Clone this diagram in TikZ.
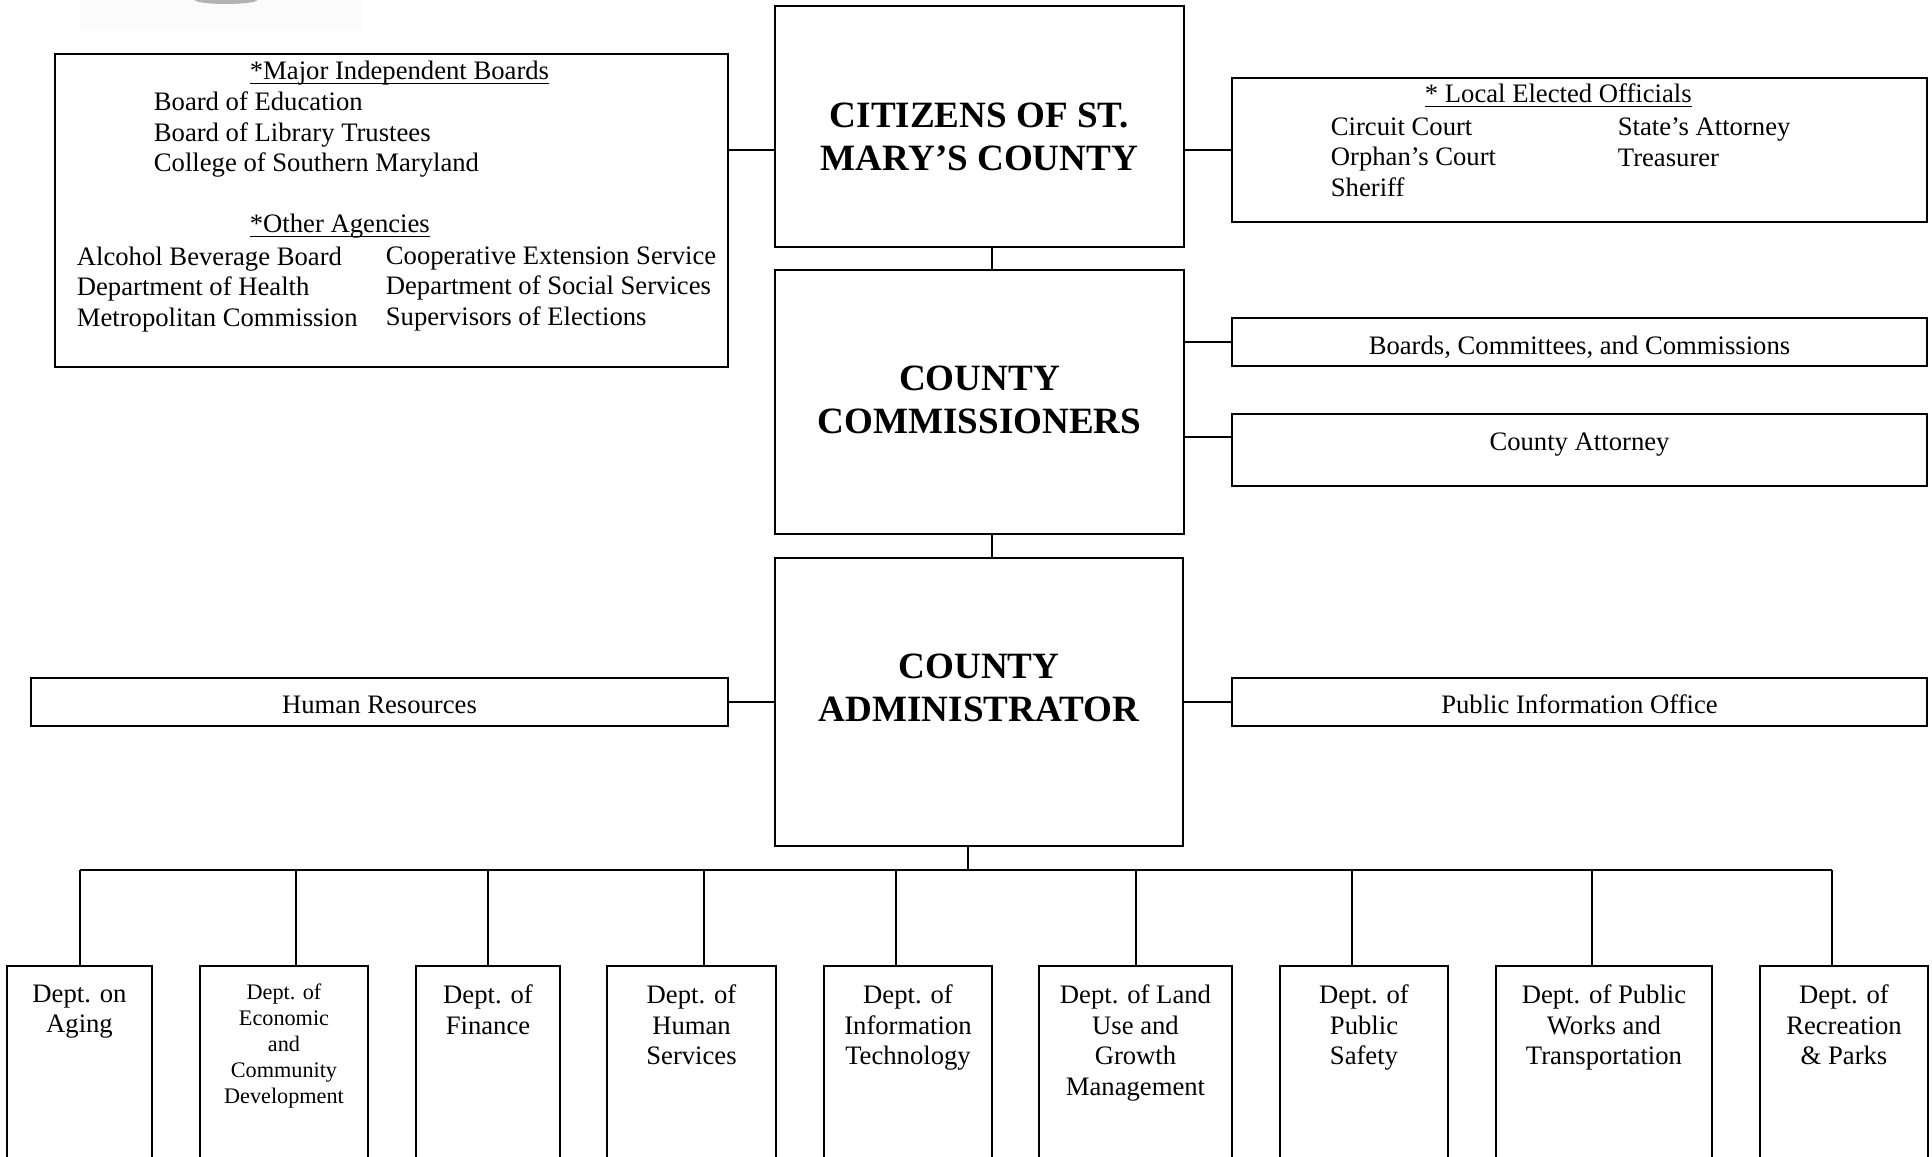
\documentclass[tikz,border=0pt]{standalone}
\usepackage{fontspec}
\setmainfont{Liberation Serif}
\usepackage{tikz}
\usetikzlibrary{positioning,calc}
\tikzstyle{orgbox}=[draw,rectangle,line width=0.8pt,inner sep=0pt,outer sep=0pt]
\tikzstyle{titletext}=[font=\fontsize{16.7}{19.35}\selectfont\bfseries,align=center,inner sep=0pt,anchor=north]
\tikzstyle{listtext}=[font=\fontsize{12}{13.7}\selectfont,align=left,inner sep=0pt,anchor=north west]
\tikzstyle{labeltext}=[font=\fontsize{12}{13.7}\selectfont,inner sep=0pt,anchor=base]
\tikzstyle{depttext}=[font=\fontsize{12}{13.7}\selectfont,align=center,inner sep=0pt,anchor=north]
\tikzset{boxsize/.style 2 args={minimum width=#1*0.45pt,minimum height=#2*0.45pt}}
\newcommand{\wordul}[1]{\underline{\smash{#1}}}

\begin{document}
\begin{tikzpicture}[x=0.45pt,y=-0.45pt,line width=0.8pt]
\useasboundingbox (0,0) rectangle (1932,1157);
\clip (0,0) rectangle (1932,1157);
% faint logo cut off at the top
\fill[black!1.5] (80,0) rectangle (362,30);
\fill[black!30] (226,0) ellipse [x radius=14pt,y radius=1.8pt];

% middle column
\node [orgbox,boxsize={409}{241}] (citizens) at (979.5,126.5) {};
\node [orgbox,boxsize={409}{264}] (commissioners) at (979.5,402) {};
\node [orgbox,boxsize={408}{288}] (admin) at (979,702) {};
\node [titletext] (citizenstxt) at (979.5,102) {CITIZENS OF ST.\\MARY’S COUNTY};
\node [titletext] (commissionerstxt) at (979.5,365) {COUNTY\\COMMISSIONERS};
\node [titletext] (admintxt) at (979,653) {COUNTY\\ADMINISTRATOR};

% boards and agencies
\node [orgbox,boxsize={673}{313}] (boards) at (391.5,210.5) {};
\node [labeltext,anchor=base west] (boardshead) at (249,80) {\wordul{*Major Independent Boards}};
\node [listtext] (boardslist) at (153,91) {Board of Education\\Board of Library Trustees\\College of Southern Maryland};
\node [labeltext,anchor=base west] (agencyhead) at (249,233) {\wordul{*Other Agencies}};
\node [listtext] (agencyleft) at (76,246) {Alcohol Beverage Board\\Department of Health\\Metropolitan Commission};
\node [listtext] (agencyright) at (385,246) {Cooperative Extension Service\\Department of Social Services\\Supervisors of Elections};

% elected officials
\node [orgbox,boxsize={695}{144}] (elected) at (1579.5,150) {};
\node [labeltext,anchor=base west] (electedhead) at (1424,103) {\wordul{* Local Elected Officials}};
\node [listtext] (electedleft) at (1330,117) {Circuit Court\\Orphan’s Court\\Sheriff};
\node [listtext] (electedright) at (1617,117) {State’s Attorney\\Treasurer};

% side boxes
\node [orgbox,boxsize={695}{48}] (bcc) at (1579.5,342) {};
\node [labeltext] (bcctxt) at (1579.5,354) {Boards, Committees, and Commissions};
\node [orgbox,boxsize={695}{72}] (attorney) at (1579.5,450) {};
\node [labeltext] (attorneytxt) at (1579.5,450) {County Attorney};
\node [orgbox,boxsize={697}{48}] (hr) at (379.5,702) {};
\node [labeltext] (hrtxt) at (379.5,713.5) {Human Resources};
\node [orgbox,boxsize={695}{48}] (pio) at (1579.5,702) {};
\node [labeltext] (piotxt) at (1579.5,713.5) {Public Information Office};

% departments
\node [orgbox,boxsize={145}{204}] (aging) at (79.5,1068) {};
\node [orgbox,boxsize={168}{204}] (econ) at (284,1068) {};
\node [orgbox,boxsize={144}{204}] (finance) at (488,1068) {};
\node [orgbox,boxsize={169}{204}] (human) at (691.5,1068) {};
\node [orgbox,boxsize={168}{204}] (infotech) at (908,1068) {};
\node [orgbox,boxsize={193}{204}] (landuse) at (1135.5,1068) {};
\node [orgbox,boxsize={168}{204}] (safety) at (1364,1068) {};
\node [orgbox,boxsize={216}{204}] (works) at (1604,1068) {};
\node [orgbox,boxsize={168}{204}] (recreation) at (1844,1068) {};
\node [depttext] at (aging.north |- 0,984) {Dept. on\\Aging};
\node [depttext,font=\fontsize{10}{11.7}\selectfont] at (econ.north |- 0,983) {Dept. of\\Economic\\and\\Community\\Development};
\node [depttext] at (finance.north |- 0,984) {Dept. of\\Finance};
\node [depttext] at (human.north |- 0,984) {Dept. of\\Human\\Services};
\node [depttext] at (infotech.north |- 0,984) {Dept. of\\Information\\Technology};
\node [depttext] at (landuse.north |- 0,984) {Dept. of Land\\Use and\\Growth\\Management};
\node [depttext] at (safety.north |- 0,984) {Dept. of\\Public\\Safety};
\node [depttext] at (works.north |- 0,984) {Dept. of Public\\Works and\\Transportation};
\node [depttext] at (recreation.north |- 0,984) {Dept. of\\Recreation\\\& Parks};

% connectors
\coordinate (spine) at (992,0);
\coordinate (attyjoin) at ($(attorney.north west)!0.32!(attorney.south west)$);
\draw (boards.east |- elected.west) -- (citizens.west |- elected.west);
\draw (citizens.east |- elected.west) -- (elected.west);
\draw (citizens.south -| spine) -- (commissioners.north -| spine);
\draw (commissioners.south -| spine) -- (admin.north -| spine);
\draw (commissioners.east |- bcc.west) -- (bcc.west);
\draw (commissioners.east |- attyjoin) -- (attyjoin);
\draw (hr.east) -- (admin.west);
\draw (admin.east) -- (pio.west);

\coordinate (busjoin) at (968,870);
\coordinate (d1) at (80,870);
\coordinate (d2) at (296,870);
\coordinate (d3) at (488,870);
\coordinate (d4) at (704,870);
\coordinate (d5) at (896,870);
\coordinate (d6) at (1136,870);
\coordinate (d7) at (1352,870);
\coordinate (d8) at (1592,870);
\coordinate (d9) at (1832,870);
\draw (admin.south -| busjoin) -- (busjoin);
\draw (d1) -- (d9);
\draw (d1) -- (d1 |- aging.north);
\draw (d2) -- (d2 |- econ.north);
\draw (d3) -- (d3 |- finance.north);
\draw (d4) -- (d4 |- human.north);
\draw (d5) -- (d5 |- infotech.north);
\draw (d6) -- (d6 |- landuse.north);
\draw (d7) -- (d7 |- safety.north);
\draw (d8) -- (d8 |- works.north);
\draw (d9) -- (d9 |- recreation.north);
\end{tikzpicture}
\end{document}
